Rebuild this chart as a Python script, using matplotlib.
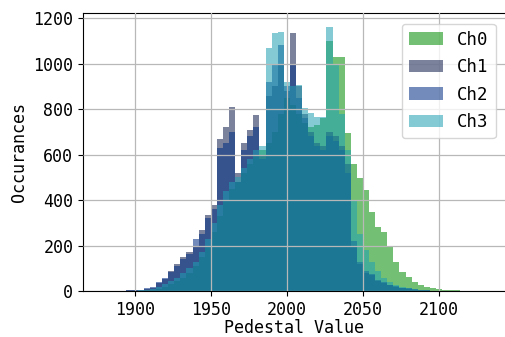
import numpy as np
import matplotlib
matplotlib.use("Agg")
import matplotlib.pyplot as plt

# bin edges (width 4) and per-channel counts
bin_edges = np.arange(1878, 2138, 4)
bin_centers = bin_edges[:-1] + 2

ch0 = [0, 0, 0, 0, 0,
       0, 1, 3, 5, 10,
       18, 30, 45, 60, 80,
       110, 150, 200, 260, 330,
       400, 450, 480, 520, 560,
       600, 620, 650, 700, 780,
       850, 820, 780, 740, 720,
       730, 760, 1100, 1030, 1030,
       696, 560, 499, 446, 350,
       280, 258, 193, 127, 83,
       61, 39, 25, 18, 12,
       8, 5, 4, 3, 2,
       1, 1, 0, 0]
ch1 = [1, 1, 2, 2, 3,
       4, 6, 10, 16, 35,
       55, 90, 120, 150, 170,
       200, 270, 335, 380, 670,
       720, 810, 520, 650, 710,
       775, 600, 860, 900, 1000,
       880, 1133, 900, 780, 700,
       650, 640, 700, 680, 640,
       560, 200, 120, 80, 70,
       45, 35, 25, 20, 15,
       10, 6, 4, 3, 2,
       1, 0, 0, 0, 0,
       0, 0, 0, 0]
ch2 = [0, 1, 1, 2, 3,
       4, 7, 12, 20, 40,
       60, 85, 110, 140, 165,
       230, 250, 320, 360, 630,
       650, 700, 480, 620, 680,
       720, 580, 920, 1000, 1080,
       900, 1000, 850, 760, 680,
       640, 620, 680, 660, 620,
       520, 220, 130, 90, 75,
       50, 40, 28, 22, 16,
       12, 8, 5, 3, 2,
       1, 0, 0, 0, 0,
       0, 0, 0, 0]
ch3 = [0, 0, 0, 0, 1,
       2, 3, 6, 10, 18,
       30, 45, 60, 80, 100,
       130, 170, 230, 300, 380,
       440, 480, 500, 540, 580,
       620, 640, 1070, 1135, 1140,
       920, 900, 905, 805, 783,
       766, 766, 1160, 1000, 780,
       620, 400, 250, 180, 130,
       90, 60, 40, 28, 18,
       12, 8, 5, 3, 2,
       1, 0, 0, 0, 0,
       0, 0, 0, 0]

channels = ["Ch0", "Ch1", "Ch2", "Ch3"]
counts = [ch0, ch1, ch2, ch3]
colors = ["#008c00", "#0f1e4b", "#002d82", "#1ea0b4"]

plt.rcParams['font.family'] = ['DejaVu Sans Mono']
plt.rcParams['font.size'] = 12

fig = plt.figure(figsize=(5.06, 3.37), dpi=100)
ax = fig.add_axes([0.164, 0.136, 0.836, 0.825])

for name, c, col in zip(channels, counts, colors):
    ax.hist(bin_centers, bins=bin_edges, weights=c, color=col, alpha=0.55, label=name)

ax.set_xlim(1866, 2144)
ax.set_ylim(0, 1222)
ax.set_xticks([1900, 1950, 2000, 2050, 2100])
ax.set_yticks([0, 200, 400, 600, 800, 1000, 1200])
ax.set_axisbelow(False)
ax.grid(True, color='#b8b8b8', linewidth=0.9)
ax.set_xlabel("Pedestal Value", labelpad=0)
ax.set_ylabel("Occurances", labelpad=4)
ax.legend(loc='upper right', fontsize=12.5, handlelength=2.0, labelspacing=0.55,
          framealpha=0.8, borderaxespad=0.6)

fig.savefig("out.png", dpi=100)
